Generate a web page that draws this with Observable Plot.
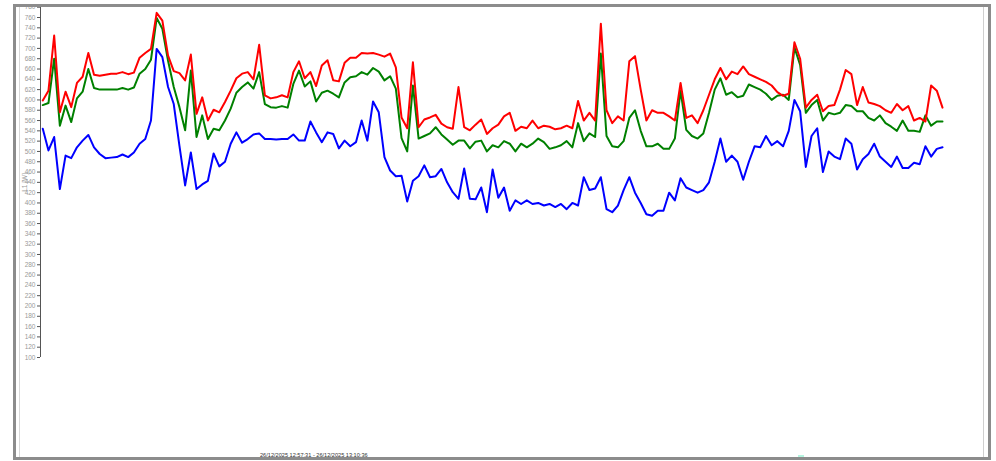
<!DOCTYPE html>
<html><head><meta charset="utf-8">
<script src="https://cdn.jsdelivr.net/npm/d3@7"></script>
<script src="https://cdn.jsdelivr.net/npm/@observablehq/plot@0.6"></script>
<style>
body{margin:0;background:#fff;font-family:"Liberation Sans",Arial,sans-serif;}
#wrap{position:relative;width:996px;height:461px;overflow:hidden;background:#fff;}
#chart{position:absolute;left:0;top:0;}
.deco{position:absolute;}
#range{position:absolute;left:260px;top:452px;font-size:5.6px;color:#333;white-space:nowrap;}
</style></head>
<body><div id="wrap"><div id="chart"></div>
<div id="range">26/12/2025 12:57:31 - 26/12/2025 13:10:36</div>
<div class="deco" style="left:19px;top:7px;width:1px;height:451px;background:#d8d8d8"></div>
<div class="deco" style="left:983px;top:7px;width:1px;height:451px;background:#cfcfcf"></div>
<div class="deco" style="left:798px;top:455px;width:6px;height:3px;background:#b5f5e0"></div>
<div class="deco" style="left:13px;top:4px;width:978px;height:456px;border:3px solid #8c8c8c;box-sizing:border-box"></div>
</div>
<script>
const yTicks = d3.range(100, 781, 20);
const red = [599,618,725,576,616,586,633,645,691,649,647,649,651,651,654,650,653,682,691,
699,769,754,686,656,652,638,688,573,605,560,581,576,596,618,642,651,654,640,707,609,
603,605,609,605,654,675,642,654,627,667,677,638,636,672,682,682,691,690,691,
688,684,690,663,566,545,673,547,562,566,571,554,547,544,625,547,541,552,562,534,
545,552,568,575,540,548,545,560,545,550,548,543,545,550,545,598,560,575,560,748,
580,555,568,560,675,685,620,560,580,575,575,568,560,633,565,570,555,580,610,640,
662,640,655,650,665,650,645,640,635,628,615,608,612,712,680,585,600,610,578,588,
590,620,658,650,590,625,595,592,588,580,575,592,580,588,560,565,558,628,618,585];
const green = [590,594,680,550,589,557,603,616,660,623,620,620,620,620,623,620,624,651,660,
678,759,738,676,625,586,541,657,528,570,524,544,541,560,583,614,625,634,622,654,592,
586,585,588,585,631,657,626,636,597,614,618,612,605,634,644,646,654,649,662,
655,638,646,622,526,500,628,525,530,535,547,533,523,513,521,521,506,519,521,500,
512,508,520,515,500,515,508,515,525,518,505,508,512,520,508,555,520,535,528,690,
530,510,508,520,565,580,540,510,510,515,505,505,525,618,542,530,525,535,575,620,
642,610,615,605,608,630,625,620,612,600,608,610,600,702,668,575,590,600,560,575,
572,575,590,588,578,578,565,560,570,555,548,540,560,540,540,538,570,550,558,558];
const blue = [544,502,528,427,492,487,508,521,532,508,495,487,488,489,494,489,498,515,524,
560,699,683,625,592,511,434,498,427,436,443,496,471,480,515,537,517,524,533,535,524,
524,523,524,524,533,521,521,558,537,518,537,534,506,521,510,518,560,521,597,
576,489,463,452,453,403,443,452,473,450,452,466,440,421,408,467,408,407,430,382,
465,410,430,385,405,398,405,398,400,395,398,392,398,388,400,395,450,425,428,450,
388,382,395,425,450,420,400,378,375,385,385,420,405,448,430,425,420,425,440,480,
525,480,492,480,445,480,510,508,530,512,520,510,540,600,578,470,530,545,460,500,
490,485,525,515,465,485,495,515,490,480,470,490,468,468,478,475,510,490,505,508];
const seriesNames = ["L1", "L2", "L3"];
const seriesColors = ["#0000ff", "#008000", "#ff0000"];
const yLabel = "L1 [W]";

const rows = [];
[blue, green, red].forEach((arr, s) => arr.forEach((v, i) => rows.push({i, v, s: seriesNames[s]})));
const n = red.length;

const plot = Plot.plot({
  width: 996, height: 461,
  marginLeft: 40, marginRight: 54, marginTop: 6.7, marginBottom: 104,
  style: {background: "transparent", fontFamily: "Liberation Sans, Arial, sans-serif"},
  x: {domain: [-0.4, n - 1], axis: null},
  y: {domain: [100, 780]},
  color: {domain: seriesNames, range: seriesColors},
  marks: [
    Plot.axisY({ticks: yTicks, tickSize: 3, tickPadding: 2, fontSize: 6.5, stroke: "#555", fill: "#9a9a9a",
      label: yLabel, labelAnchor: "center", labelOffset: 18, labelArrow: "none"}),
    Plot.ruleX([-0.4], {y1: 100, y2: 780, stroke: "#555", strokeWidth: 1}),
    Plot.line(rows, {x: "i", y: "v", z: "s", stroke: "s", strokeWidth: 2, curve: "linear"})
  ]
});
document.getElementById("chart").appendChild(plot);
</script>
</body></html>
